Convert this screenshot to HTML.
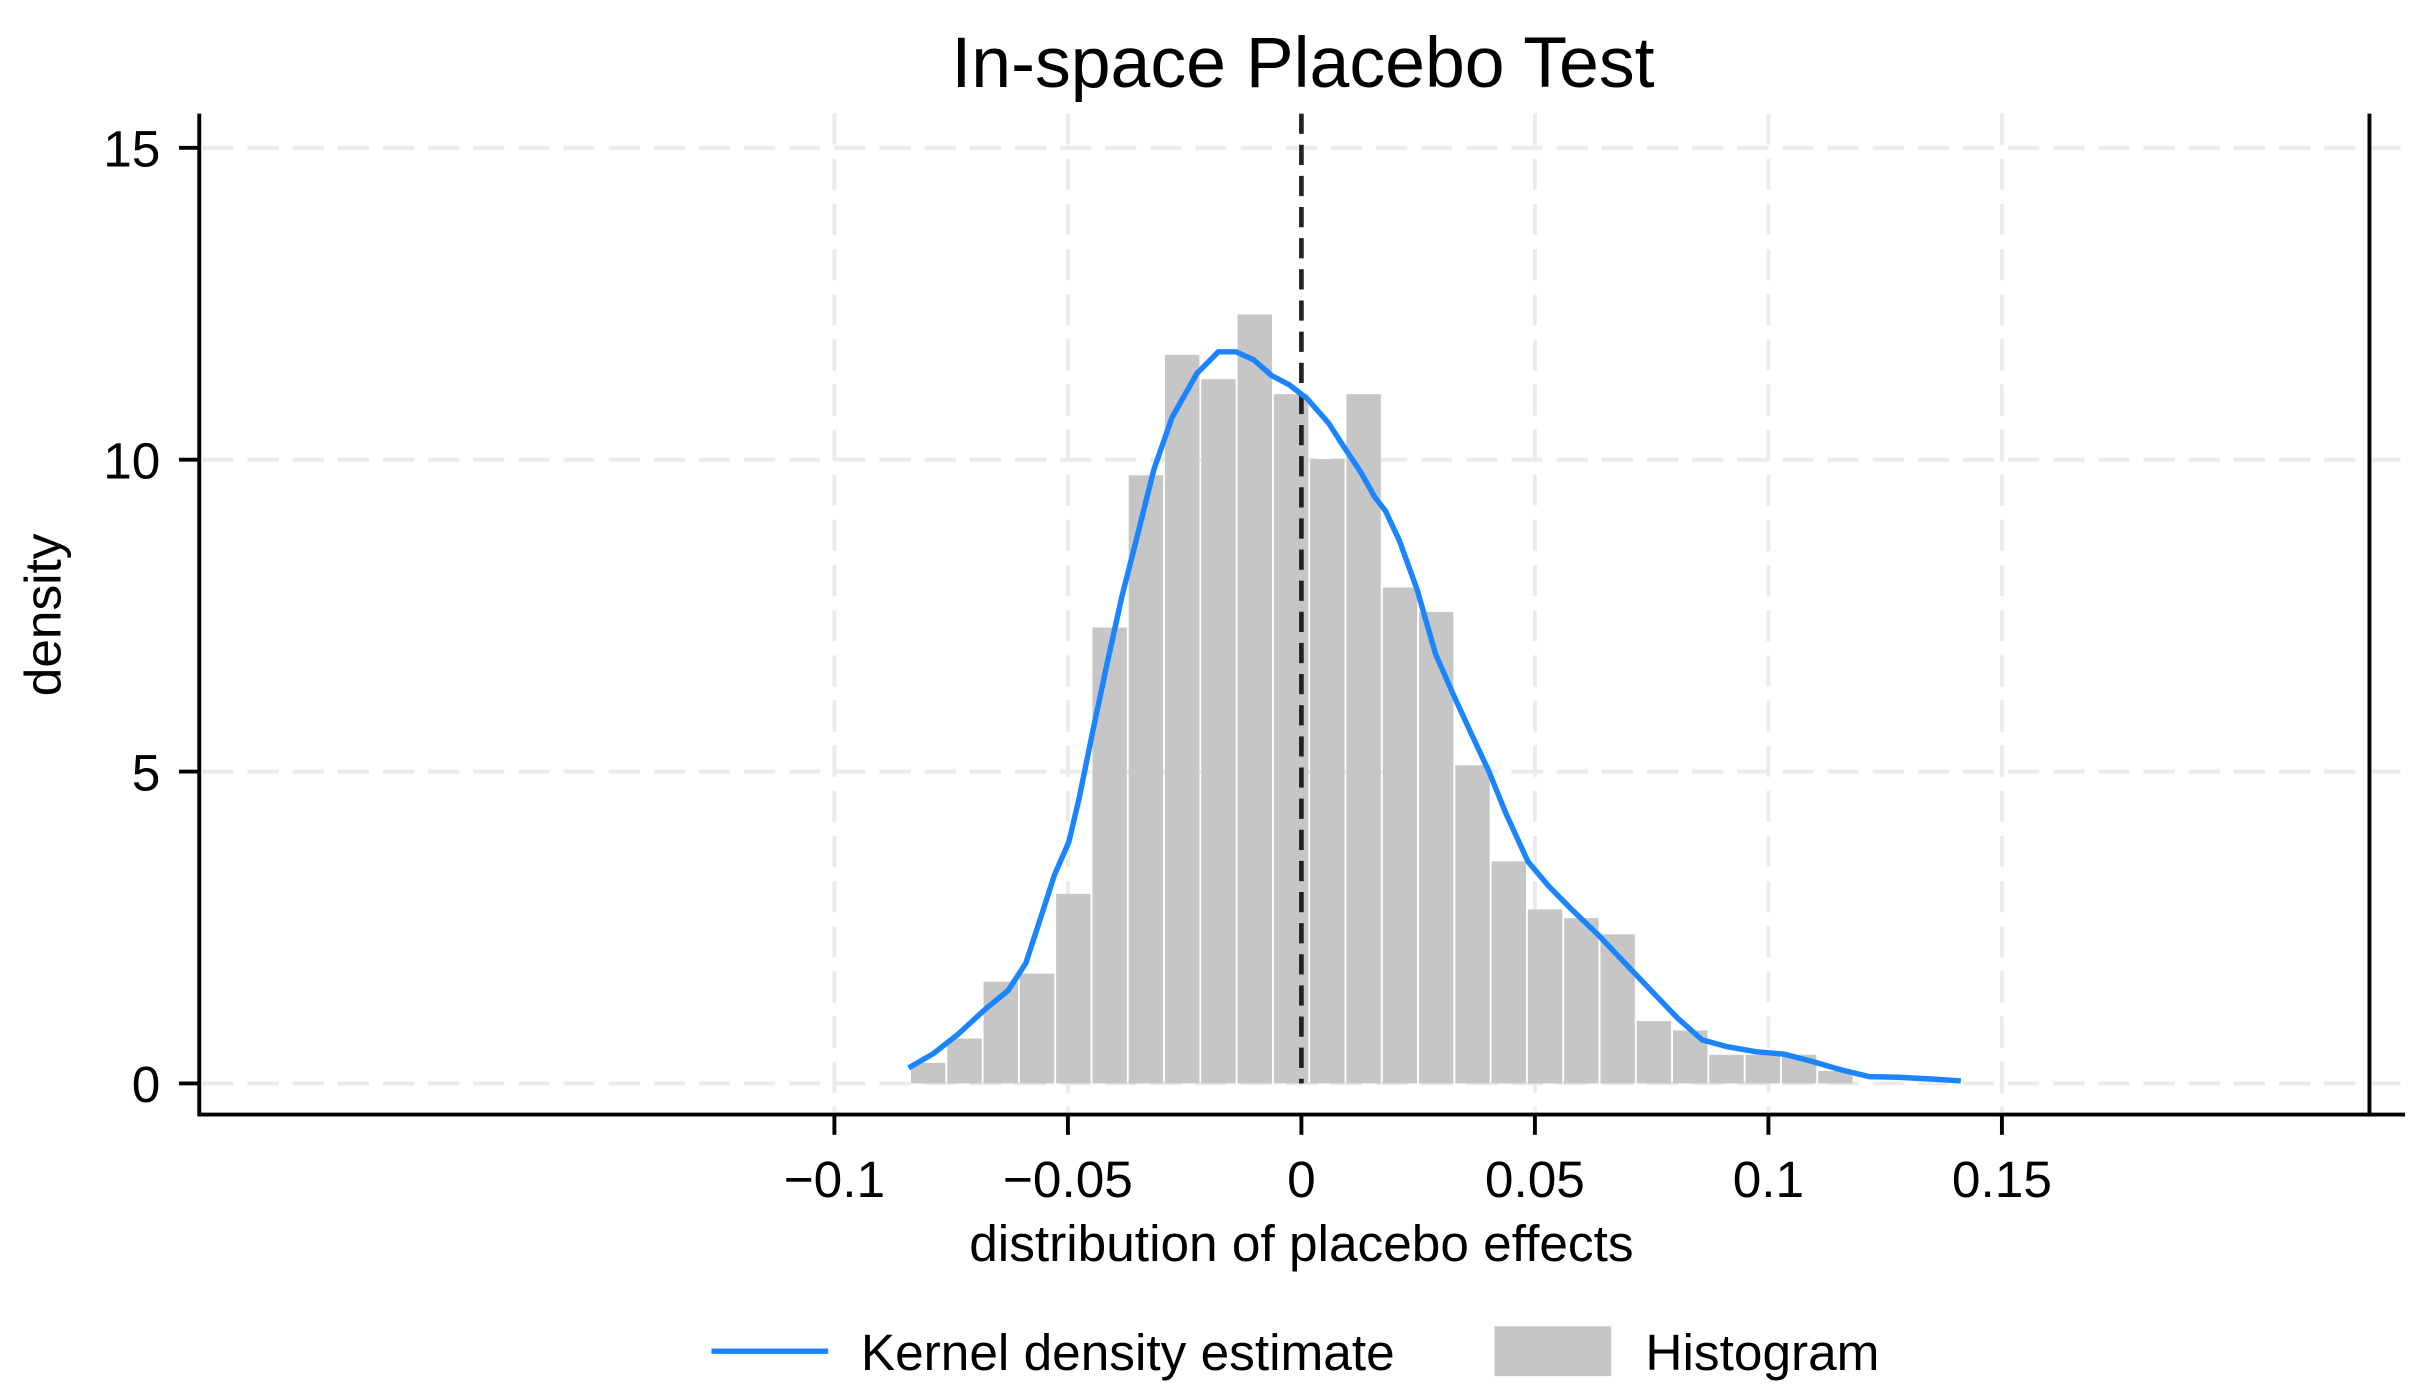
<!DOCTYPE html>
<html><head><meta charset="utf-8"><style>
html,body{margin:0;padding:0;background:#fff}
svg{display:block;font-family:"Liberation Sans",Arial,sans-serif}
</style></head><body>
<svg id="chart" width="2416" height="1399" viewBox="0 0 1552 898.7" xmlns="http://www.w3.org/2000/svg">
<rect width="1552" height="898.7" fill="#fff"/>
<text x="837" y="56" font-size="46" text-anchor="middle">In-space Placebo Test</text>
<g id="grid"></g>
<g id="bars"></g>
<g id="kde"></g>
<g id="axes"></g>
<text x="836" y="810" font-size="33" text-anchor="middle">distribution of placebo effects</text>
<text x="39" y="395" font-size="33" text-anchor="middle" transform="rotate(-90 39 395)">density</text>
<g>
<line x1="457" y1="868" x2="532" y2="868" stroke="#1a85ff" stroke-width="3.5"/>
<text x="553" y="880" font-size="33">Kernel density estimate</text>
<rect x="960" y="852" width="75" height="32" fill="#c6c6c6"/>
<text x="1057" y="880" font-size="33">Histogram</text>
</g>
</svg>
<script>
const binStart = -0.0838;
const binWidth = 0.00777;
const binHeights = [0.33,0.72,1.63,1.76,3.04,7.31,9.75,11.68,11.29,12.33,11.05,10.01,11.05,7.95,7.56,5.10,3.56,2.79,2.65,2.39,1.00,0.85,0.46,0.46,0.46,0.20];
const kdeX = [-0.0841,-0.0788,-0.0735,-0.0674,-0.0628,-0.0590,-0.0559,-0.0529,-0.0498,-0.0476,-0.0445,-0.0415,-0.0384,-0.0354,-0.0316,-0.0277,-0.0224,-0.0178,-0.0140,-0.0102,-0.0064,-0.0026,0.0012,0.0058,0.0088,0.0127,0.0157,0.0180,0.0210,0.0248,0.0287,0.0325,0.0363,0.0401,0.0439,0.0485,0.0530,0.0576,0.0637,0.0698,0.0759,0.0805,0.0858,0.0912,0.0973,0.1034,0.1095,0.1155,0.1216,0.1277,0.1354,0.1412];
const kdeY = [0.25,0.48,0.79,1.21,1.49,1.93,2.64,3.34,3.87,4.57,5.71,6.77,7.82,8.70,9.84,10.68,11.38,11.73,11.73,11.60,11.35,11.20,10.98,10.59,10.24,9.80,9.40,9.18,8.70,7.91,6.89,6.24,5.62,5.01,4.31,3.56,3.16,2.81,2.37,1.89,1.41,1.05,0.70,0.59,0.51,0.47,0.35,0.22,0.11,0.10,0.07,0.04];
const xTicks = [-0.1,-0.05,0,0.05,0.1,0.15];
const xTickLabels = ["\u22120.1","\u22120.05","0","0.05","0.1","0.15"];
const yTicks = [0,5,10,15];
const yTickLabels = ["0","5","10","15"];
const actualEffect = 0.2287;

const NS = "http://www.w3.org/2000/svg";
const X = v => 836 + v * 3000;
const Y = v => 696 - v * 40.07;
function mk(parent, tag, attrs){const e=document.createElementNS(NS,tag);for(const k in attrs)e.setAttribute(k,attrs[k]);document.getElementById(parent).appendChild(e);return e;}

yTicks.forEach((t,i)=>{
  const g = mk('grid','line',{x1:130,x2:1545,y1:Y(t),y2:Y(t),stroke:'#ebebeb','stroke-width':2.5,'stroke-dasharray':'20 9'});
  
  
  const tk = mk('axes','line',{x1:115,x2:128,y1:Y(t),y2:Y(t),stroke:'#000','stroke-width':2.5});
  
  
  const tl = mk('axes','text',{x:103,y:Y(t)+12,'font-size':33,'text-anchor':'end'});
  tl.textContent = yTickLabels[i];
  
  
});
xTicks.forEach((t,i)=>{
  if (t !== 0) {
    const g = mk('grid','line',{x1:X(t),x2:X(t),y1:73,y2:714,stroke:'#ebebeb','stroke-width':2.5,'stroke-dasharray':'20 9'});
    
    
  }
  const tk = mk('axes','line',{x1:X(t),x2:X(t),y1:716,y2:729,stroke:'#000','stroke-width':2.5});
  
  
  const tl = mk('axes','text',{x:X(t),y:769,'font-size':33,'text-anchor':'middle'});
  tl.textContent = xTickLabels[i];
  
  
});
binHeights.forEach((h,i)=>{
  const x0 = X(binStart + i*binWidth), x1 = X(binStart + (i+1)*binWidth);
  const r = mk('bars','rect',{x:x0+0.6,y:Y(h),width:x1-x0-1.2,height:Y(0)-Y(h),fill:'#c6c6c6'});
  
  
});
const zl = mk('kde','line',{x1:X(0),x2:X(0),y1:73,y2:696,stroke:'#222','stroke-width':3,'stroke-dasharray':'13 7'});


const pts = kdeX.map((x,i)=>X(x).toFixed(1)+','+Y(kdeY[i]).toFixed(1)).join(' ');
const kl = mk('kde','polyline',{points:pts,fill:'none',stroke:'#1a85ff','stroke-width':3.5,'stroke-linejoin':'round'});


const ya = mk('axes','line',{x1:128,x2:128,y1:73,y2:717,stroke:'#000','stroke-width':2.5});


const xa = mk('axes','line',{x1:127,x2:1545,y1:716,y2:716,stroke:'#000','stroke-width':2.5});


const ae = mk('axes','line',{x1:X(actualEffect),x2:X(actualEffect),y1:73,y2:716,stroke:'#000','stroke-width':2.5});


</script>
</body></html>
